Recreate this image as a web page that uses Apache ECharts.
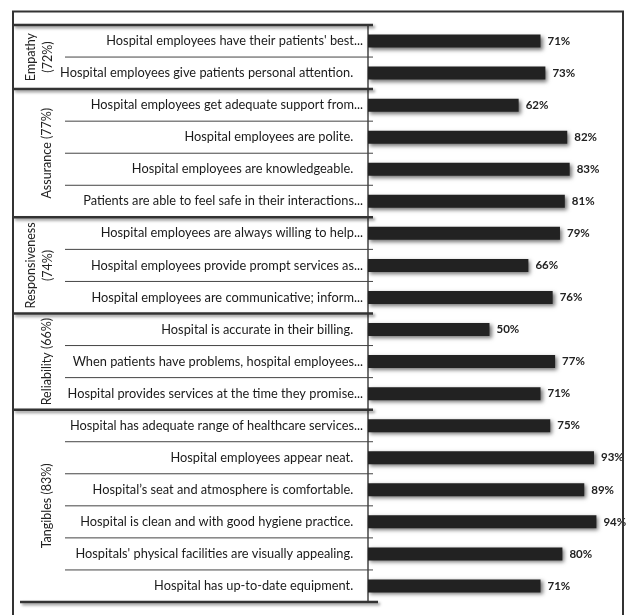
<!DOCTYPE html>
<html><head><meta charset="utf-8">
<script src="https://cdn.jsdelivr.net/npm/echarts@6/dist/echarts.min.js"></script>
<style>html,body{margin:0;padding:0;background:#fff}#c{width:628px;height:615px}</style>
</head><body><div id="c"></div>
<script>
const categories = [
  "Hospital employees have their patients' best...",
  "Hospital employees give patients personal attention.",
  "Hospital employees get adequate support from...",
  "Hospital employees are polite.",
  "Hospital employees are knowledgeable.",
  "Patients are able to feel safe in their interactions...",
  "Hospital employees are always willing to help...",
  "Hospital employees provide prompt services as...",
  "Hospital employees are communicative; inform...",
  "Hospital is accurate in their billing.",
  "When patients have problems, hospital employees...",
  "Hospital provides services at the time they promise...",
  "Hospital has adequate range of healthcare services...",
  "Hospital employees appear neat.",
  "Hospital\u2019s seat and atmosphere is comfortable.",
  "Hospital is clean and with good hygiene practice.",
  "Hospitals' physical facilities are visually appealing.",
  "Hospital has up-to-date equipment."
];
const values = [71, 73, 62, 82, 83, 81, 79, 66, 76, 50, 77, 71, 75, 93, 89, 94, 80, 71];
const groupNames = ["Empathy\n(72%)", "Assurance (77%)", "Responsiveness\n(74%)", "Reliability (66%)", "Tangibles (83%)"];
const groupStarts = [0, 2, 6, 9, 12];
const groupEnds = [1, 5, 8, 11, 17];
const valueMax = 100;

const FONT = 'Lato';
const chart = echarts.init(document.getElementById('c'), null, {renderer: 'canvas'});

const rowData = categories.map((c, i) => [0, i]);
const groupData = groupNames.map((g, k) => [0, groupStarts[k], groupEnds[k]]);

function renderSep(params, api) {
  const i = api.value(1);
  const c = api.coord([0, i]);
  const h = api.size([0, 1])[1];
  const top = c[1] - h / 2;
  const bottom = c[1] + h / 2;
  const ax = c[0];
  const children = [];
  const thick = groupStarts.indexOf(i) >= 0;
  const shadow = {shadowBlur: 3, shadowColor: 'rgba(0,0,0,0.45)', shadowOffsetX: 2, shadowOffsetY: 2};
  if (thick) {
    children.push({type: 'line', shape: {x1: ax - 355, y1: top, x2: ax + 5, y2: top},
      style: Object.assign({stroke: '#333', lineWidth: 2.5}, shadow)});
  } else {
    children.push({type: 'line', shape: {x1: ax - 303, y1: top, x2: ax + 5, y2: top},
      style: {stroke: '#444', lineWidth: 1}});
  }
  if (i === categories.length - 1) {
    children.push({type: 'line', shape: {x1: ax - 348, y1: bottom, x2: ax + 10, y2: bottom},
      style: Object.assign({stroke: '#333', lineWidth: 2.5}, shadow)});
  }
  return {type: 'group', children};
}

function renderGroup(params, api) {
  const s = api.coord([0, api.value(1)]);
  const e = api.coord([0, api.value(2)]);
  const cy = (s[1] + e[1]) / 2;
  const name = groupNames[params.dataIndex];
  const twoLine = name.indexOf('\n') >= 0;
  return {
    type: 'text',
    x: s[0] - (twoLine ? 329 : 321),
    y: cy,
    rotation: Math.PI / 2,
    style: {text: name, fill: '#222', font: '12.5px ' + FONT, align: 'center', verticalAlign: 'middle', lineHeight: 17}
  };
}

chart.setOption({
  animation: false,
  graphic: [{type: 'rect', shape: {x: 13, y: 11.5, width: 610, height: 640}, style: {fill: 'none', stroke: '#333', lineWidth: 2}, z: 100}],
  grid: {left: 368, right: 17, top: 25, bottom: 13},
  xAxis: {type: 'value', min: 0, max: valueMax, show: false},
  yAxis: {
    type: 'category', data: categories, inverse: true,
    axisLine: {show: true, lineStyle: {color: '#444', width: 1.5}},
    axisTick: {show: false},
    axisLabel: {
      margin: 5, color: '#1a1a1a', fontFamily: FONT, fontSize: 12.8,
      formatter: v => (/\.\.\.$/.test(v) ? v : v + '   ')
    }
  },
  series: [
    {type: 'bar', data: values, barWidth: 13,
      itemStyle: {color: '#222', shadowBlur: 4, shadowColor: 'rgba(0,0,0,0.55)', shadowOffsetX: 2, shadowOffsetY: 2},
      label: {show: true, position: 'right', distance: 7, formatter: '{c}%', color: '#222', fontFamily: FONT, fontWeight: 'bold', fontSize: 11.5}},
    {type: 'custom', data: rowData, renderItem: renderSep, clip: false, silent: true, encode: {x: 0, y: 1}, z: 5},
    {type: 'custom', data: groupData, renderItem: renderGroup, clip: false, silent: true, encode: {x: 0, y: 1}, z: 5}
  ]
});
</script></body></html>
